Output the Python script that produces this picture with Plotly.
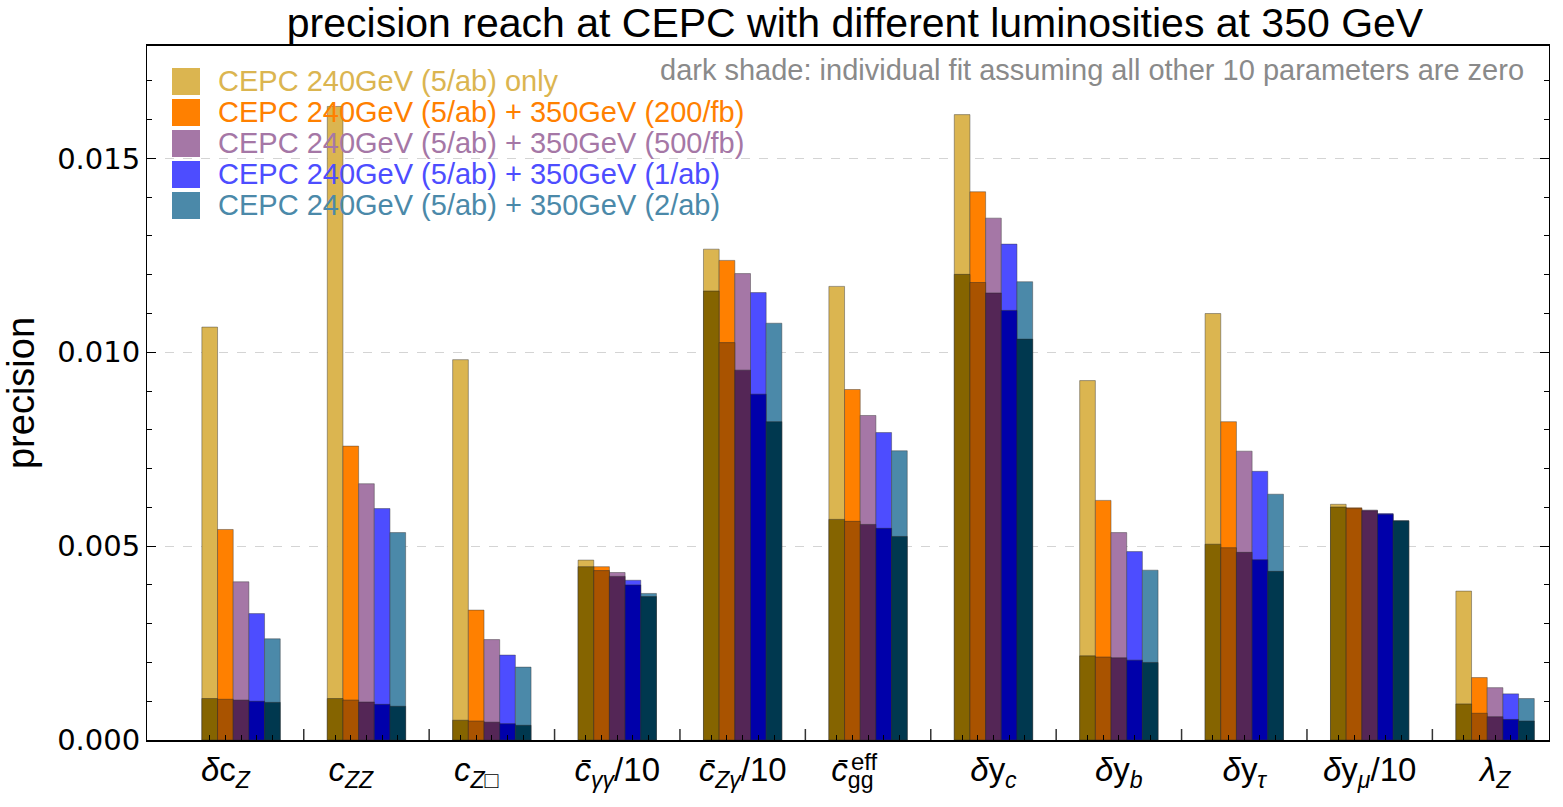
import plotly.graph_objects as go

# ---------------- data ----------------
categories = ["δcZ", "cZZ", "cZ□", "c̄γγ/10", "c̄Zγ/10", "c̄gg_eff",
              "δyc", "δyb", "δyτ", "δyμ/10", "λZ"]

tick_labels = [
    "<i>δ</i>c<sub><i>Z</i></sub>",
    "<i>c</i><sub><i>ZZ</i></sub>",
    "<i>c</i><sub><i>Z</i>□</sub>",
    "<i>c̄</i><sub><i>γγ</i></sub>/10",
    "<i>c̄</i><sub><i>Zγ</i></sub>/10",
    "<i>c̄</i><sub>gg</sub>",
    "<i>δ</i>y<sub><i>c</i></sub>",
    "<i>δ</i>y<sub><i>b</i></sub>",
    "<i>δ</i>y<sub><i>τ</i></sub>",
    "<i>δ</i>y<sub><i>μ</i></sub>/10",
    "<i>λ</i><sub><i>Z</i></sub>",
]

series_names = [
    "CEPC 240GeV (5/ab) only",
    "CEPC 240GeV (5/ab) + 350GeV (200/fb)",
    "CEPC 240GeV (5/ab) + 350GeV (500/fb)",
    "CEPC 240GeV (5/ab) + 350GeV (1/ab)",
    "CEPC 240GeV (5/ab) + 350GeV (2/ab)",
]

# global fit (light bars)
global_240 = [0.01065, 0.01634, 0.00981, 0.00464, 0.01266, 0.01170, 0.01613, 0.00927, 0.01100, 0.00608, 0.00384]
global_200fb = [0.00543, 0.00758, 0.00335, 0.00447, 0.01237, 0.00904, 0.01414, 0.00618, 0.00821, 0.00599, 0.00161]
global_500fb = [0.00408, 0.00661, 0.00259, 0.00432, 0.01203, 0.00837, 0.01346, 0.00535, 0.00745, 0.00593, 0.00135]
global_1ab = [0.00326, 0.00597, 0.00219, 0.00412, 0.01154, 0.00793, 0.01279, 0.00486, 0.00693, 0.00584, 0.00119]
global_2ab = [0.00261, 0.00535, 0.00188, 0.00378, 0.01075, 0.00746, 0.01182, 0.00438, 0.00634, 0.00566, 0.00107]

# individual fit (dark shade)
indiv_240 = [0.00107, 0.00107, 0.00051, 0.00447, 0.01158, 0.00569, 0.01201, 0.00217, 0.00505, 0.00601, 0.00093]
indiv_200fb = [0.00105, 0.00103, 0.00049, 0.00437, 0.01025, 0.00564, 0.01180, 0.00214, 0.00496, 0.00597, 0.00069]
indiv_500fb = [0.00103, 0.00098, 0.00046, 0.00422, 0.00954, 0.00556, 0.01153, 0.00212, 0.00484, 0.00591, 0.00060]
indiv_1ab = [0.00100, 0.00092, 0.00042, 0.00400, 0.00892, 0.00546, 0.01108, 0.00206, 0.00465, 0.00582, 0.00053]
indiv_2ab = [0.00097, 0.00087, 0.00038, 0.00370, 0.00821, 0.00525, 0.01034, 0.00200, 0.00435, 0.00565, 0.00049]

global_vals = [global_240, global_200fb, global_500fb, global_1ab, global_2ab]
indiv_vals = [indiv_240, indiv_200fb, indiv_500fb, indiv_1ab, indiv_2ab]

light_colors = ["#DBB550", "#FF8000", "#A577A6", "#4D4DFF", "#4B89A9"]
dark_colors = ["#856400", "#A95300", "#542656", "#0000AA", "#00384F"]

y_ticks = [0.0, 0.005, 0.010, 0.015]

# ---------------- layout constants ----------------
W, H = 1563, 807
L, R, T, B = 147, 14, 46, 67
PW, PH = W - L - R, H - T - B
BW = 0.125
n_series = len(series_names)
xs = list(range(len(categories)))
# which bar the category label sits under (some sit slightly left in the original)
label_bar = [1, 1, 1, 2, 2, 1, 2, 2, 2, 2, 2]


def px_x(p):
    return (p - L) / PW


def px_y(p):
    return (H - B - p) / PH


def bar_center(i, k):
    return i - BW * n_series / 2 + BW * (k + 0.5)


fig = go.Figure()
for k in range(n_series):
    off = -BW * n_series / 2 + BW * k
    fig.add_trace(go.Bar(
        x=xs, y=global_vals[k], offset=off, width=BW,
        marker=dict(color=light_colors[k], line=dict(color="rgba(60,60,60,0.45)", width=1)),
        name=series_names[k], showlegend=False,
    ))
for k in range(n_series):
    off = -BW * n_series / 2 + BW * k
    fig.add_trace(go.Bar(
        x=xs, y=indiv_vals[k], offset=off, width=BW,
        marker=dict(color=dark_colors[k], line=dict(color="rgba(40,40,40,0.45)", width=1)),
        name=series_names[k] + " (individual)", showlegend=False,
    ))

# x ticks: labelled major tick under one bar of each group, minor ticks at the other bars
major_vals = [bar_center(i, label_bar[i]) for i in xs]
minor_vals = [bar_center(i, k) for i in xs for k in range(n_series) if k != label_bar[i]]
sep_vals = [i + 0.5 for i in xs[:-1]]

fig.update_layout(
    width=W, height=H,
    margin=dict(l=L, r=R, t=T, b=B),
    paper_bgcolor="white", plot_bgcolor="white",
    barmode="overlay",
    showlegend=False,
    font=dict(family="Liberation Sans, Arial, sans-serif", color="black"),
    title=dict(
        text="precision reach at CEPC with different luminosities at 350 GeV",
        x=px_x(855), xref="paper", y=1 - 23 / H, yref="container",
        xanchor="center", yanchor="middle",
        font=dict(size=41, family="Liberation Sans, Arial, sans-serif", color="black"),
    ),
    xaxis=dict(
        range=[-0.75, 10.43],
        tickmode="array", tickvals=major_vals, ticktext=tick_labels,
        ticks="inside", ticklen=5, tickwidth=1, tickcolor="black",
        tickfont=dict(size=33, family="Liberation Sans, Arial, sans-serif"),
        showline=True, linecolor="black", linewidth=1.5, mirror=True,
        showgrid=False, zeroline=False,
        minor=dict(tickmode="array", tickvals=minor_vals, ticks="inside",
                   ticklen=5, tickwidth=1, tickcolor="black", showgrid=False),
    ),
    yaxis=dict(
        range=[0, 0.0179],
        tickmode="array", tickvals=y_ticks, tickformat=".3f",
        ticks="inside", ticklen=9, tickwidth=1, tickcolor="black",
        tickfont=dict(size=29, family="DejaVu Sans, sans-serif"),
        showline=True, linecolor="black", linewidth=1, mirror="ticks",
        showgrid=True, gridcolor="#d4d4d4", griddash="dash", gridwidth=1,
        zeroline=False,
        minor=dict(dtick=0.001, tick0=0, ticks="inside", ticklen=5,
                   tickwidth=1, tickcolor="black", showgrid=False),
        title=dict(text="precision", standoff=10,
                   font=dict(size=38, family="Liberation Sans Narrow, Arial Narrow, Liberation Sans, sans-serif")),
    ),
)

annotations = []
shapes = []
# group separator ticks on the bottom axis
for s in sep_vals:
    shapes.append(dict(type="line", xref="x", yref="paper", x0=s, x1=s,
                       ysizemode="pixel", yanchor=0, y0=0, y1=11,
                       line=dict(color="#333333", width=1.5), layer="above"))

# legend drawn as swatches + coloured text
row_y = [81, 112, 143, 174, 205]
for k in range(n_series):
    yc = row_y[k]
    shapes.append(dict(type="rect", xref="paper", yref="paper",
                       x0=px_x(172), x1=px_x(200), y0=px_y(yc + 14), y1=px_y(yc - 13),
                       fillcolor=light_colors[k], line=dict(width=0), layer="above"))
    annotations.append(dict(text=series_names[k], xref="paper", yref="paper",
                            x=px_x(216), y=px_y(yc), xanchor="left", yanchor="middle",
                            showarrow=False,
                            font=dict(size=29, color=light_colors[k],
                                      family="Liberation Sans, Arial, sans-serif")))

annotations.append(dict(
    text="dark shade: individual fit assuming all other 10 parameters are zero",
    xref="paper", yref="paper", x=px_x(1526), y=px_y(70),
    xanchor="right", yanchor="middle", showarrow=False,
    font=dict(size=29, color="#8a8a8a",
              family="Liberation Sans Narrow, Arial Narrow, Liberation Sans, sans-serif")))

# superscript "eff" stacked above the "gg" subscript of c̄_gg
gi = categories.index("c̄gg_eff")
annotations.append(dict(text="eff", xref="x", yref="paper", x=gi - 0.155, y=px_y(762),
                        xanchor="left", yanchor="middle", showarrow=False,
                        font=dict(size=24, family="Liberation Sans, Arial, sans-serif")))

fig.update_layout(annotations=annotations, shapes=shapes)
fig.write_html("out.html")
